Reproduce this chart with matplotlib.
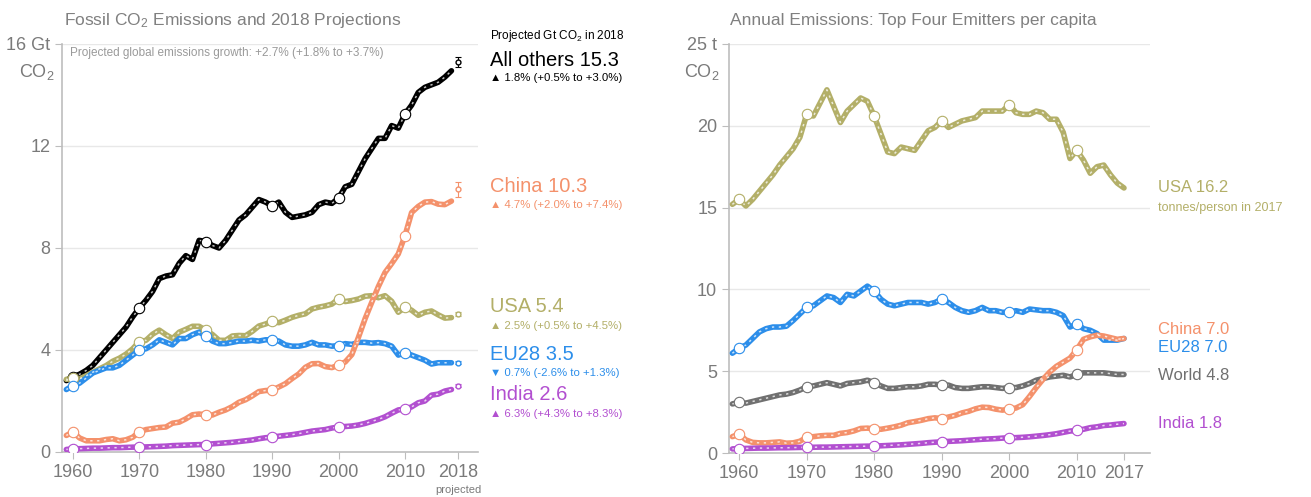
import matplotlib
matplotlib.use("Agg")
import matplotlib.pyplot as plt
import numpy as np

plt.rcParams['font.family'] = ['Liberation Sans Narrow', 'Liberation Sans', 'DejaVu Sans']
plt.rcParams['mathtext.fontset'] = 'custom'
plt.rcParams['mathtext.rm'] = 'Liberation Sans'
plt.rcParams['mathtext.default'] = 'regular'

# Datos: emisiones territoriales (Gt CO2) 1959-2017
years = list(range(1959, 2018))

others = [2.80, 2.95, 3.05, 3.20, 3.40, 3.70, 4.00, 4.30, 4.60, 4.90, 5.30,
          5.65, 5.95, 6.30, 6.80, 6.90, 6.95, 7.40, 7.70, 7.55, 8.30,
          8.25, 8.10, 8.00, 8.30, 8.70, 9.10, 9.30, 9.60, 9.90, 9.80,
          9.65, 9.80, 9.40, 9.20, 9.25, 9.30, 9.40, 9.70, 9.80, 9.75,
          9.95, 10.40, 10.50, 11.00, 11.50, 11.90, 12.30, 12.30, 12.80, 12.70,
          13.25, 13.60, 14.10, 14.30, 14.40, 14.50, 14.70, 14.95]
china = [0.65, 0.78, 0.55, 0.44, 0.44, 0.44, 0.49, 0.52, 0.44, 0.48, 0.58,
         0.79, 0.88, 0.92, 0.96, 0.98, 1.13, 1.17, 1.30, 1.46, 1.49,
         1.46, 1.45, 1.56, 1.65, 1.78, 1.95, 2.05, 2.20, 2.37, 2.41,
         2.42, 2.55, 2.68, 2.88, 3.06, 3.32, 3.46, 3.47, 3.35, 3.31,
         3.41, 3.53, 3.82, 4.50, 5.23, 5.87, 6.49, 7.04, 7.39, 7.77,
         8.48, 9.39, 9.63, 9.80, 9.82, 9.72, 9.70, 9.84]
usa = [2.85, 2.89, 2.87, 2.99, 3.13, 3.26, 3.39, 3.56, 3.68, 3.84, 4.05,
       4.33, 4.38, 4.62, 4.78, 4.60, 4.45, 4.70, 4.81, 4.93, 4.93,
       4.77, 4.61, 4.38, 4.38, 4.55, 4.57, 4.56, 4.73, 4.94, 5.02,
       5.12, 5.07, 5.17, 5.28, 5.36, 5.42, 5.61, 5.68, 5.73, 5.80,
       6.00, 5.90, 5.94, 6.00, 6.11, 6.13, 6.05, 6.13, 5.91, 5.48,
       5.68, 5.56, 5.36, 5.48, 5.53, 5.38, 5.25, 5.27]
eu28 = [2.45, 2.60, 2.70, 2.90, 3.10, 3.20, 3.30, 3.30, 3.40, 3.60, 3.80,
        4.00, 4.05, 4.20, 4.40, 4.30, 4.20, 4.45, 4.45, 4.60, 4.70,
        4.55, 4.35, 4.25, 4.25, 4.30, 4.35, 4.35, 4.38, 4.35, 4.40,
        4.40, 4.35, 4.20, 4.15, 4.15, 4.20, 4.30, 4.20, 4.20, 4.15,
        4.17, 4.25, 4.22, 4.30, 4.30, 4.27, 4.29, 4.25, 4.15, 3.80,
        3.90, 3.80, 3.70, 3.60, 3.45, 3.50, 3.50, 3.50]
india = [0.10, 0.12, 0.13, 0.14, 0.15, 0.15, 0.16, 0.17, 0.17, 0.18, 0.19,
         0.19, 0.20, 0.21, 0.22, 0.23, 0.25, 0.26, 0.27, 0.28, 0.29,
         0.29, 0.32, 0.34, 0.36, 0.38, 0.41, 0.44, 0.47, 0.52, 0.56,
         0.58, 0.62, 0.65, 0.68, 0.72, 0.77, 0.82, 0.85, 0.88, 0.94,
         0.98, 1.00, 1.02, 1.06, 1.12, 1.20, 1.28, 1.38, 1.52, 1.65,
         1.68, 1.77, 1.93, 2.00, 2.23, 2.27, 2.39, 2.45]

# Proyección 2018: central, bajo, alto
proj_year = 2018
proj = {"others": (15.3, 15.1, 15.5), "china": (10.3, 10.0, 10.6),
        "usa": (5.4, 5.35, 5.5), "eu28": (3.5, 3.45, 3.55), "india": (2.6, 2.56, 2.65)}

# Per cápita (t CO2/persona) 1959-2017
usa_pc = [15.2, 15.5, 15.1, 15.5, 16.0, 16.5, 17.0, 17.6, 18.1, 18.6, 19.3,
          20.7, 20.6, 21.4, 22.2, 21.2, 20.2, 20.9, 21.3, 21.7, 21.5,
          20.6, 19.5, 18.4, 18.3, 18.7, 18.6, 18.5, 19.1, 19.7, 19.9,
          20.3, 19.9, 20.1, 20.3, 20.4, 20.5, 20.9, 20.9, 20.9, 20.9,
          21.3, 20.8, 20.7, 20.7, 20.9, 20.8, 20.4, 20.4, 19.6, 18.0,
          18.5, 17.9, 17.1, 17.5, 17.6, 17.0, 16.5, 16.2]
eu28_pc = [6.1, 6.4, 6.6, 7.0, 7.4, 7.6, 7.7, 7.7, 7.75, 8.1, 8.5,
           8.9, 9.0, 9.3, 9.6, 9.5, 9.2, 9.7, 9.6, 9.9, 10.2,
           9.9, 9.4, 9.1, 9.0, 9.1, 9.2, 9.2, 9.2, 9.1, 9.2,
           9.4, 9.2, 8.9, 8.7, 8.6, 8.7, 8.9, 8.7, 8.7, 8.6,
           8.6, 8.7, 8.6, 8.8, 8.75, 8.7, 8.7, 8.6, 8.4, 7.7,
           7.9, 7.6, 7.5, 7.3, 6.9, 6.9, 6.9, 7.0]
china_pc = [1.0, 1.15, 0.8, 0.65, 0.62, 0.62, 0.65, 0.68, 0.6, 0.62, 0.72,
            0.95, 1.0, 1.05, 1.08, 1.08, 1.2, 1.25, 1.35, 1.5, 1.52,
            1.47, 1.45, 1.52, 1.6, 1.7, 1.85, 1.92, 2.0, 2.1, 2.15,
            2.1, 2.2, 2.3, 2.45, 2.55, 2.7, 2.8, 2.78, 2.68, 2.62,
            2.68, 2.75, 2.95, 3.45, 4.0, 4.5, 4.95, 5.3, 5.55, 5.8,
            6.3, 6.95, 7.1, 7.2, 7.15, 7.05, 6.95, 7.0]
world_pc = [3.0, 3.1, 3.05, 3.15, 3.25, 3.35, 3.45, 3.55, 3.6, 3.7, 3.85,
            4.05, 4.1, 4.2, 4.3, 4.2, 4.1, 4.25, 4.3, 4.35, 4.45,
            4.3, 4.1, 3.95, 3.95, 4.0, 4.05, 4.05, 4.1, 4.2, 4.2,
            4.15, 4.15, 4.0, 3.95, 3.95, 4.0, 4.05, 4.05, 4.0, 3.95,
            4.0, 4.0, 4.1, 4.25, 4.45, 4.55, 4.65, 4.7, 4.75, 4.65,
            4.8, 4.9, 4.9, 4.9, 4.9, 4.85, 4.8, 4.8]
india_pc = [0.25, 0.27, 0.28, 0.29, 0.30, 0.30, 0.31, 0.32, 0.32, 0.33, 0.34,
            0.35, 0.35, 0.36, 0.36, 0.37, 0.38, 0.39, 0.40, 0.41, 0.42,
            0.42, 0.44, 0.46, 0.48, 0.50, 0.53, 0.56, 0.59, 0.63, 0.66,
            0.68, 0.71, 0.73, 0.75, 0.78, 0.81, 0.84, 0.86, 0.88, 0.91,
            0.93, 0.94, 0.96, 0.99, 1.03, 1.07, 1.12, 1.18, 1.26, 1.34,
            1.38, 1.45, 1.55, 1.60, 1.68, 1.71, 1.76, 1.80]

left_ticks_x = [1960, 1970, 1980, 1990, 2000, 2010, 2018]
right_ticks_x = [1960, 1970, 1980, 1990, 2000, 2010, 2017]
decades = [1960, 1970, 1980, 1990, 2000, 2010]

C_OTH = "#000000"
C_CHN = "#F4916B"
C_USA = "#B3AF68"
C_EU = "#2C8EEA"
C_IND = "#B24FD0"
C_WLD = "#707070"
GRAY = "#808080"
LIGHT = "#E8E8E8"


def serie(ax, x, y, color):
    ax.plot(x, y, color=color, lw=4, solid_capstyle='round', zorder=3)
    ax.plot(x, y, color="white", lw=1.1, dashes=(1.5, 3), alpha=0.75, zorder=4)
    xd = [a for a in x if a in decades]
    yd = [y[x.index(a)] for a in xd]
    ax.plot(xd, yd, 'o', ms=7.5, mfc="white", mec=color, mew=0.8, zorder=5)


def estilo(ax, yticks, xticks):
    for s in ["top", "right"]:
        ax.spines[s].set_visible(False)
    for s in ["left", "bottom"]:
        ax.spines[s].set_color("#BDBDBD")
        ax.spines[s].set_linewidth(1.2)
    ax.set_yticks(yticks)
    ax.set_xticks(xticks)
    ax.tick_params(colors="#BDBDBD", labelcolor="#7A7A7A", labelsize=13, length=5)
    for t in yticks[1:]:
        ax.axhline(t, color=LIGHT, lw=1, zorder=1)


fig = plt.figure(figsize=(13.11, 4.97), dpi=100)


def fx(px):
    return px / 1311


def fy(py):
    return 1 - py / 497


# Panel izquierdo
ax1 = fig.add_axes([fx(62), fy(452), fx(416), 408 / 497])
ax1.set_xlim(1958.35, 2021.0)
ax1.set_ylim(0, 16)
estilo(ax1, [0, 4, 8, 12, 16], left_ticks_x)
ax1.set_yticklabels(["0", "4", "8", "12", "16 Gt"])
ax1.set_xticklabels([str(t) for t in left_ticks_x])

for key, data, col in [("others", others, C_OTH), ("usa", usa, C_USA), ("eu28", eu28, C_EU),
                       ("china", china, C_CHN), ("india", india, C_IND)]:
    serie(ax1, years, data, col)
    c, lo, hi = proj[key]
    ax1.errorbar([proj_year], [c], yerr=[[c - lo], [hi - c]], fmt='o', ms=3.5,
                 mfc="white", mec=col, ecolor=col, elinewidth=0.8, capsize=2.5,
                 capthick=0.8, zorder=5)

fig.text(fx(64), fy(20), "Fossil CO$_2$ Emissions and 2018 Projections", fontsize=12.5,
         color=GRAY, va="center")
fig.text(fx(55), fy(72), "CO$_2$", fontsize=13, color="#7A7A7A", ha="right", va="center")
fig.text(fx(70), fy(53), "Projected global emissions growth: +2.7% (+1.8% to +3.7%)",
         fontsize=8.5, color="#9A9A9A", va="center")
fig.text(fx(458), fy(490), "projected", fontsize=8, color="#7A7A7A", ha="center", va="center")

lx = fx(490)
fig.text(lx, fy(36), "Projected Gt CO$_2$ in 2018", fontsize=8.5, color="black", va="center")
etiquetas = [
    ("All others 15.3", "▲ 1.8% (+0.5% to +3.0%)", C_OTH, 60, 78),
    ("China 10.3", "▲ 4.7% (+2.0% to +7.4%)", C_CHN, 187, 205),
    ("USA 5.4", "▲ 2.5% (+0.5% to +4.5%)", C_USA, 306, 326),
    ("EU28 3.5", "▼ 0.7% (-2.6% to +1.3%)", C_EU, 354, 373),
    ("India 2.6", "▲ 6.3% (+4.3% to +8.3%)", C_IND, 395, 414),
]
for big, small, col, y1, y2 in etiquetas:
    fig.text(lx, fy(y1), big, fontsize=14.5, color=col, va="center")
    fig.text(lx, fy(y2), small, fontsize=8.2, color=col, va="center",
             family=['Liberation Sans', 'DejaVu Sans'])

# Panel derecho
ax2 = fig.add_axes([fx(729), fy(453), fx(421), 409 / 497])
ax2.set_xlim(1958.5, 2020.85)
ax2.set_ylim(0, 25)
estilo(ax2, [0, 5, 10, 15, 20, 25], right_ticks_x)
ax2.set_yticklabels(["0", "5", "10", "15", "20", "25 t"])
ax2.set_xticklabels([str(t) for t in right_ticks_x])

for data, col in [(usa_pc, C_USA), (eu28_pc, C_EU), (world_pc, C_WLD),
                  (china_pc, C_CHN), (india_pc, C_IND)]:
    serie(ax2, years, data, col)

fig.text(fx(730), fy(20), "Annual Emissions: Top Four Emitters per capita", fontsize=12.5,
         color=GRAY, va="center")
fig.text(fx(720), fy(72), "CO$_2$", fontsize=13, color="#7A7A7A", ha="right", va="center")

rx = fx(1158)
fig.text(rx, fy(188), "USA 16.2", fontsize=12, color=C_USA, va="center")
fig.text(rx, fy(208), "tonnes/person in 2017", fontsize=9, color=C_USA, va="center")
fig.text(rx, fy(330), "China 7.0", fontsize=12, color=C_CHN, va="center")
fig.text(rx, fy(348), "EU28 7.0", fontsize=12, color=C_EU, va="center")
fig.text(rx, fy(376), "World 4.8", fontsize=12, color=C_WLD, va="center")
fig.text(rx, fy(424), "India 1.8", fontsize=12, color=C_IND, va="center")

plt.savefig("out.png", dpi=100)
